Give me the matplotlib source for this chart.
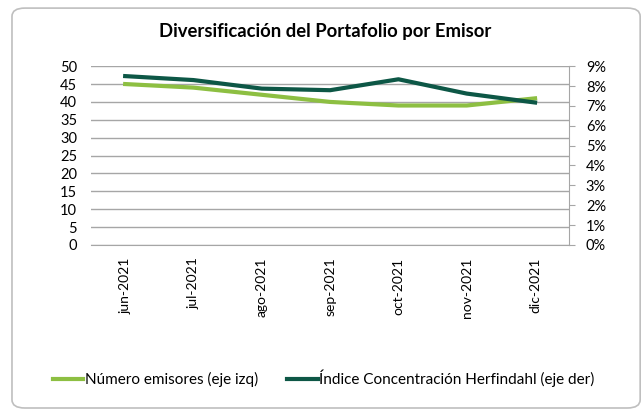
import matplotlib.pyplot as plt
from matplotlib.patches import FancyBboxPatch
from matplotlib.ticker import FuncFormatter, MultipleLocator

plt.rcParams['font.family'] = ['Lato', 'DejaVu Sans']

# data
meses = ['jun-2021', 'jul-2021', 'ago-2021', 'sep-2021', 'oct-2021', 'nov-2021', 'dic-2021']
num_emisores = [45, 44, 42, 40, 39, 39, 41]
herfindahl = [0.085, 0.083, 0.0787, 0.0779, 0.0834, 0.0762, 0.0717]

verde_claro = '#8DBF42'
verde_oscuro = '#0D5746'
gris = '#A6A6A6'

fig = plt.figure(figsize=(6.41, 4.11), dpi=100)
ax = fig.add_axes([0.142, 0.404, 0.746, 0.435])
ax2 = ax.twinx()

x = range(len(meses))
l1, = ax.plot(x, num_emisores, color=verde_claro, lw=3, solid_joinstyle='round',
              label='Número emisores (eje izq)')
l2, = ax2.plot(x, herfindahl, color=verde_oscuro, lw=3, solid_joinstyle='round',
               label='Índice Concentración Herfindahl (eje der)')

ax.set_xlim(-0.5, 6.5)
ax.set_ylim(0, 50)
ax.yaxis.set_major_locator(MultipleLocator(5))
ax2.set_ylim(0, 0.09)
ax2.yaxis.set_major_locator(MultipleLocator(0.01))
ax2.yaxis.set_major_formatter(FuncFormatter(lambda v, p: f'{v*100:.0f}%'))

ax.grid(axis='y', color=gris, lw=1)
ax.set_axisbelow(True)
ax.set_xticks(list(x))
ax.set_xticklabels(meses, rotation=90, fontsize=10)
ax.tick_params(axis='x', length=0, pad=9)
ax.tick_params(axis='y', length=0, pad=10, labelsize=10.5)
ax2.tick_params(axis='y', length=4, color=gris, pad=8, labelsize=10.5)

for s in ['top', 'left', 'right']:
    ax.spines[s].set_visible(False)
for s in ['top', 'left', 'bottom']:
    ax2.spines[s].set_visible(False)
ax.spines['bottom'].set_color(gris)
ax2.spines['right'].set_color(gris)

fig.suptitle('Diversificación del Portafolio por Emisor', x=0.508, y=0.943,
             fontsize=13.3, fontweight='bold')

fig.legend(handles=[l1, l2], loc='center', bbox_to_anchor=(0.505, 0.08), ncol=2,
           frameon=False, fontsize=11, handlelength=2.0, handletextpad=0.1,
           columnspacing=1.9)

borde = FancyBboxPatch((0.0187, 0.0073), 0.98, 0.973,
                       boxstyle='round,pad=0,rounding_size=0.02',
                       transform=fig.transFigure, fill=False, ec='#BFBFBF', lw=1.2)
fig.patches.append(borde)

fig.savefig('out.png', dpi=100)
